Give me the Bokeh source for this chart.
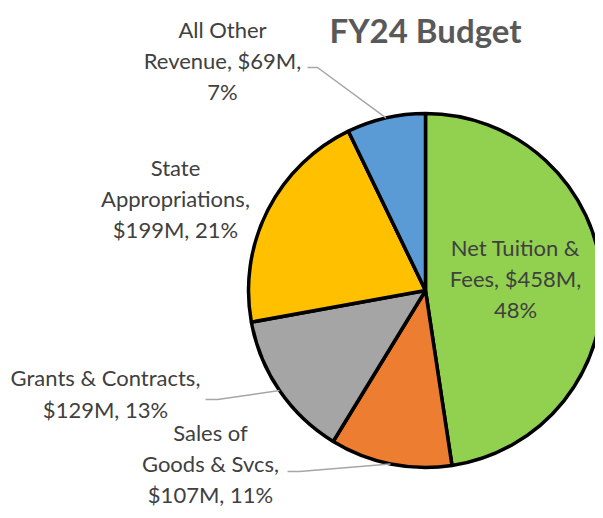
import math
from bokeh.plotting import figure
from bokeh.models import Range1d, ColumnDataSource
from bokeh.core.properties import value
from bokeh.embed import file_html
from bokeh.resources import INLINE

# ---- data ----
categories = ["Net Tuition & Fees", "Sales of Goods & Svcs", "Grants & Contracts",
              "State Appropriations", "All Other Revenue"]
values_m = [458, 107, 129, 199, 69]
percents = [48, 11, 13, 21, 7]
label_texts = [
    "Net Tuition &\nFees, $458M,\n48%",
    "Sales of\nGoods & Svcs,\n$107M, 11%",
    "Grants & Contracts,\n$129M, 13%",
    "State\nAppropriations,\n$199M, 21%",
    "All Other\nRevenue, $69M,\n7%",
]
colors = ["#92D050", "#ED7D31", "#A5A5A5", "#FFC000", "#5B9BD5"]
title_text = "FY24 Budget"

# ---- layout (reference pixel coordinates) ----
W, H = 595, 510
def Y(ref_y):
    return 518 - ref_y

CX, CY, R = 425, 290, 177
label_pos = [(515, 278), (210, 463), (105, 393), (175, 198), (222, 60)]
# leader line start (label side) and elbow, None when label sits inside
leader_start = [None, [(287, 471), (299, 471)], [(205, 399), (217, 399)], None,
                [(307, 67), (317, 67)]]

total = sum(values_m)
starts, ends, mids = [], [], []
cum = 0.0
for v in values_m:
    f0 = cum / total
    cum += v
    f1 = cum / total
    starts.append(math.pi / 2 - 2 * math.pi * f0)
    ends.append(math.pi / 2 - 2 * math.pi * f1)
    mids.append((f0 + f1) / 2)

p = figure(width=W, height=H, x_range=Range1d(0, W), y_range=Range1d(Y(H), Y(0)),
           output_backend="svg", toolbar_location=None, min_border=0)
p.axis.visible = False
p.grid.visible = False
p.outline_line_color = None
p.background_fill_color = "white"
p.border_fill_color = "white"

src = ColumnDataSource(dict(start=starts, end=ends, color=colors, cat=categories))
p.wedge(x=CX, y=Y(CY), radius=R, start_angle="start", end_angle="end", direction="clock",
        fill_color="color", line_color="black", line_width=3.5, source=src)

# leader lines
xs, ys = [], []
for i, ls in enumerate(leader_start):
    if ls is None:
        continue
    ang = 2 * math.pi * mids[i]
    ex = CX + R * math.sin(ang)
    ey = CY - R * math.cos(ang)
    pts = ls + [(ex, ey)]
    xs.append([q[0] for q in pts])
    ys.append([Y(q[1]) for q in pts])
p.multi_line(xs=xs, ys=ys, line_color="#A6A6A6", line_width=1.5)

# labels
p.text(x=[q[0] for q in label_pos], y=[Y(q[1]) for q in label_pos], text=label_texts,
       text_font=value("Lato"), text_font_size="22px", text_color="#404040",
       text_align="center", text_baseline="middle", text_line_height=1.15)

# title
p.text(x=[425], y=[Y(29)], text=[title_text], text_font=value("Lato"),
       text_font_size="33px", text_font_style="bold", text_color="#595959",
       text_align="center", text_baseline="middle")

open("out.html", "w").write(file_html(p, INLINE))
